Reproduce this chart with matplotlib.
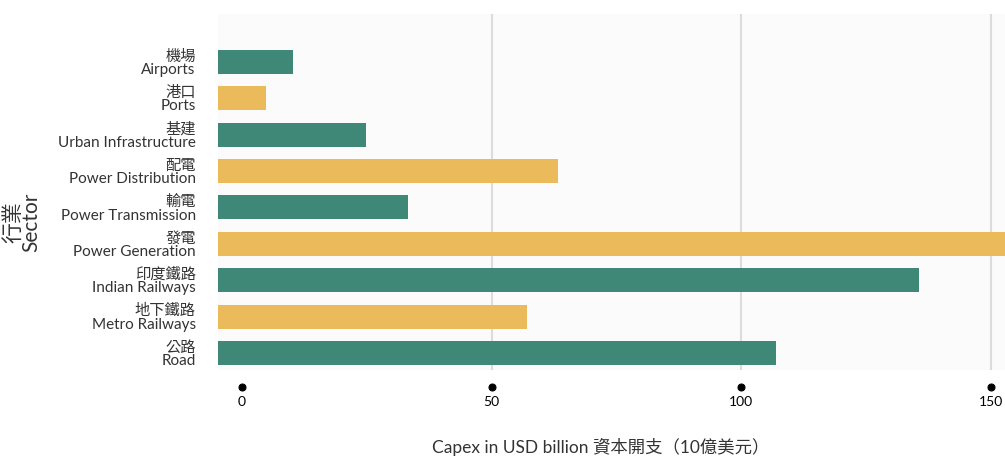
import matplotlib
matplotlib.use("Agg")
import matplotlib.pyplot as plt
import numpy as np

sectors_zh = ["機場", "港口", "基建", "配電", "輸電", "發電", "印度鐵路", "地下鐵路", "公路"]
sectors_en = ["Airports", "Ports", "Urban Infrastructure", "Power Distribution",
              "Power Transmission", "Power Generation", "Indian Railways",
              "Metro Railways", "Road"]
capex = [10.2, 4.8, 24.8, 63.3, 33.3, 160.0, 135.5, 57.1, 106.9]
xticks = [0, 50, 100, 150]

GREEN = "#3f8877"
YELLOW = "#ebbb5b"
colors = [GREEN if i % 2 == 0 else YELLOW for i in range(len(capex))]

plt.rcParams['font.family'] = ['Lato', 'Noto Sans CJK TC', 'DejaVu Sans']
TXT = "#333333"

fig = plt.figure(figsize=(10.05, 4.57), dpi=100)
W, H = 1005, 457
ax = fig.add_axes([218 / W, 1 - 370 / H, (1005 - 218) / W, (370 - 14) / H])
ax.set_facecolor("#fbfbfb")

XMIN, XMAX = -4.81, 152.8
y = np.arange(len(capex))
ax.barh(y, np.array(capex) - XMIN, left=XMIN, height=0.66, color=colors, zorder=2)

ax.set_xlim(XMIN, XMAX)
ax.set_ylim(len(capex) - 1 + 0.47, -1.32)

ax.set_yticks(y)
ax.set_yticklabels([f"{z}\n{e}" for z, e in zip(sectors_zh, sectors_en)],
                   fontsize=11, color=TXT, linespacing=0.95)
ax.tick_params(axis='y', length=0, pad=16)

ax.set_xticks(xticks)
ax.set_xticklabels([str(t) for t in xticks], fontsize=12.5, color=TXT)
ax.spines['bottom'].set_position(('outward', 12))
ax.tick_params(axis='x', length=0, pad=7)
for tl in ax.xaxis.get_ticklines():
    tl.set_marker('o')
    tl.set_markersize(5)
    tl.set_markerfacecolor('black')
    tl.set_markeredgecolor('black')

ax.grid(axis='x', color="#dcdcdc", linewidth=1.5, zorder=0)
ax.set_axisbelow(True)
ax.xaxis.get_gridlines()[0].set_visible(False)

for s in ax.spines.values():
    s.set_visible(False)

fig.text(601 / W, 1 - 447 / H, "Capex in USD billion 資本開支（10億美元）",
         ha='center', va='center', fontsize=12.5, color=TXT)
fig.text(22 / W, 1 - 222 / H, "行業\nSector", rotation=90, ha='center', va='center',
         fontsize=15, color=TXT, linespacing=0.85)

fig.savefig("out.png", dpi=100)
